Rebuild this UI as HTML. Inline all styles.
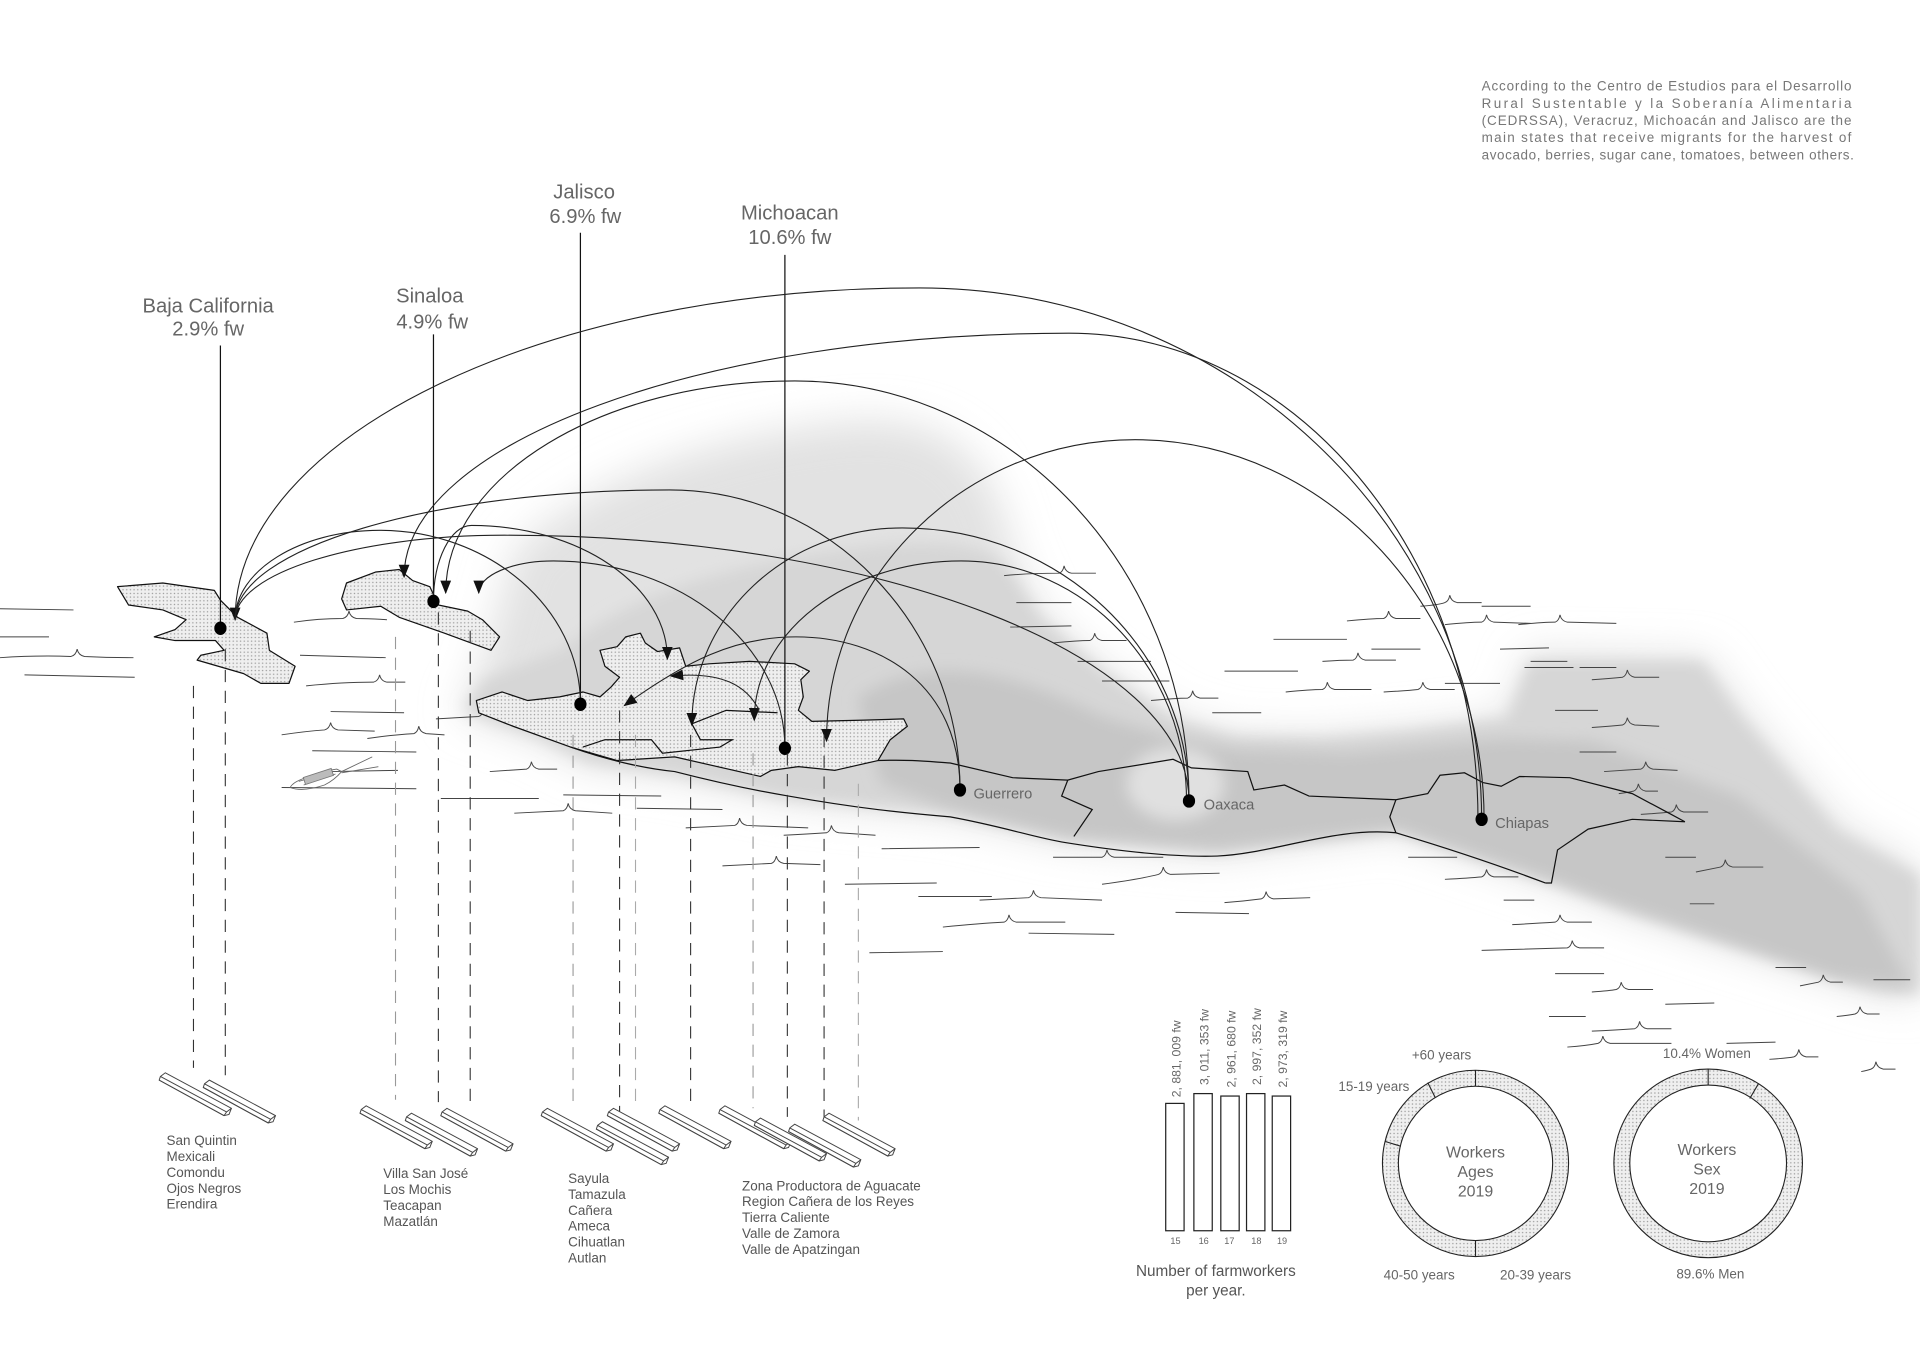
<!DOCTYPE html>
<html><head><meta charset="utf-8">
<style>
html,body{margin:0;padding:0;background:#fff;}
svg{display:block;}
text{font-family:"Liberation Sans",sans-serif;}
</style></head>
<body>
<svg width="1920" height="1357" viewBox="0 0 1568 1108" xmlns="http://www.w3.org/2000/svg">
<defs>
<filter id="b1" x="-20%" y="-20%" width="140%" height="140%"><feGaussianBlur stdDeviation="16"/></filter>
<filter id="b2" x="-20%" y="-20%" width="140%" height="140%"><feGaussianBlur stdDeviation="6"/></filter>
<pattern id="dots" width="3" height="3" patternUnits="userSpaceOnUse">
<rect width="3" height="3" fill="#efefef"/><circle cx="1.5" cy="1.5" r="0.6" fill="#9a9a9a"/>
</pattern>
<marker id="ar" viewBox="0 0 10 10" refX="9" refY="5" markerWidth="11" markerHeight="11" markerUnits="userSpaceOnUse" orient="auto">
<path d="M0,1 L10,5 L0,9 Z" fill="#111"/>
</marker>
<g id="s" fill="#fff" stroke="#444" stroke-width="0.8"><path d="M0,0 L4,-3 L58,26 L56,31 L52,32 L-1,3 Z"/><path d="M-1,3 L52,32 M0,0 L54,29 L58,26 M54,29 L52,32" fill="none"/></g>
</defs>

<!-- land base -->
<path filter="url(#b1)" fill="#e2e2e2" d="M420,450 C470,400 560,360 680,345 C760,335 810,360 827,449 L850,500 900,545 960,585 1010,600 1080,601 1150,595 1231,585 1247,533 1393,536 1424,580 1505,675 1568,710 L1568,816 1535,813 1333,748 1262,721 1140,680 994,699 870,688 776,667 644,655 551,635 480,626 438,604 373,582 387,560 400,520 Z"/>
<path filter="url(#b2)" fill="#d6d6d6" d="M460,530 C520,480 620,455 720,445 C790,440 815,450 827,470 L850,505 900,548 960,588 1010,602 1080,603 1150,597 1231,587 1249,540 1390,540 1420,583 1500,678 1568,715 L1568,812 1535,810 1333,745 1262,718 1140,678 994,696 870,685 776,664 644,652 551,632 480,622 440,602 378,580 395,555 Z"/>
<path filter="url(#b2)" fill="#c6c6c6" d="M700,570 C760,530 830,550 900,585 L960,603 1010,612 1100,615 1231,603 1300,605 1420,650 1520,730 1560,805 1500,798 1333,742 1262,716 1140,676 994,692 870,682 776,660 720,640 Z"/>
<ellipse cx="960" cy="640" rx="40" ry="30" fill="#e0e0e0" filter="url(#b2)"/>

<!-- waves -->
<g fill="none" stroke="#444" stroke-width="0.8">
<path d="M0,497 l60,1 M0,520 l40,0 M0,537 q30,-2 58,-1 q4,-1 5,-6 q1,5 6,6 q20,1 40,1 M20,551 l90,2 M240,508 q20,-3 40,-3 q4,-1 5,-6 q1,5 6,6 q10,0 25,1 M245,535 l70,2 M250,560 q30,-3 55,-3 q4,-1 5,-6 q1,5 6,6 l15,0 M270,581 l60,1 M230,600 q20,-3 35,-4 q4,-1 5,-6 q1,5 6,6 l30,1 M255,613 l85,1 M270,630 l55,-1 M230,643 l110,1 M300,603 q20,-3 38,-4 q3,-1 4,-6 q1,5 6,6 l15,1 M356,587 q15,-1 35,-2 q3,-1 4,-6 q1,5 6,6 l20,0 M400,630 q15,-1 30,-2 q3,-1 4,-6 q1,5 6,6 l15,0 M360,652 l80,0 M420,664 q20,-1 40,-2 q3,-1 4,-6 q1,5 6,6 l30,2 M460,649 l80,1 M560,676 q20,-1 40,-2 q3,-1 4,-6 q1,5 6,6 l50,2 M520,660 l70,1 M640,682 q20,-1 35,-2 q3,-1 4,-6 q1,5 6,6 l30,2 M590,707 q20,-1 40,-2 q3,-1 4,-6 q1,5 6,6 l30,1 M720,693 l80,-1 M690,722 l75,-1 M800,735 q20,-1 40,-2 q3,-1 4,-6 q1,5 6,6 l50,2 M860,700 q20,0 40,0 q3,-1 4,-6 q1,5 6,6 l40,0 M900,722 q30,-4 46,-8 q3,-1 4,-6 q1,5 6,6 l40,-1 M1000,737 q15,-1 30,-3 q3,-1 4,-6 q1,5 6,6 l30,-1 M770,757 q30,-3 50,-4 q3,-1 4,-6 q1,5 6,6 l40,0 M710,778 l60,-1 M750,732 l60,0 M840,762 l70,1 M960,745 l60,1"/>
<path d="M820,470 q20,-2 45,-2 q3,-1 4,-6 q1,5 6,6 l20,0 M830,492 l45,0 M825,512 l50,-1 M860,525 q20,-2 30,-2 q3,-1 4,-6 q1,5 6,6 l20,0 M880,540 l60,0 M900,556 l55,0 M940,572 q20,-2 30,-2 q3,-1 4,-6 q1,5 6,6 l15,0 M990,582 l40,0 M1000,548 l60,0 M1050,565 q20,-2 30,-2 q3,-1 4,-6 q1,5 6,6 l30,0 M1080,540 q15,-1 25,-1 q3,-1 4,-6 q1,5 6,6 l25,0 M1120,530 l40,0 M1040,522 l60,0 M1100,507 q20,-2 30,-2 q3,-1 4,-6 q1,5 6,6 l20,0 M1160,495 q15,-1 20,-3 q3,-1 4,-6 q1,5 6,6 l20,0 M1180,510 q20,-2 30,-2 q3,-1 4,-6 q1,5 6,6 l30,1 M1130,565 q20,-1 28,-2 q3,-1 4,-6 q1,5 6,6 l20,0 M1180,558 l45,0 M1225,530 l40,-1 M1210,495 l40,0 M1240,510 q20,-2 30,-2 q3,-1 4,-6 q1,5 6,6 l40,1 M1245,545 l40,0 M1290,545 l30,0"/>
<path d="M1250,540 l30,0 M1300,555 q15,-1 25,-2 q3,-1 4,-6 q1,5 6,6 l20,0 M1270,580 l35,0 M1300,594 q15,-1 25,-2 q3,-1 4,-6 q1,5 6,6 l20,1 M1290,614 l30,0 M1310,630 q15,-1 30,-2 q3,-1 4,-6 q1,5 6,6 l20,1 M1322,648 q8,-1 12,-2 q3,-1 4,-6 q1,5 6,6 l10,0 M1340,665 q15,-1 25,-2 q3,-1 4,-6 q1,5 6,6 l20,0 M1360,700 l25,0 M1385,712 q10,-2 20,-4 q3,-1 4,-6 q1,5 6,6 l25,0 M1380,738 l20,0 M1450,790 l25,0 M1470,805 q10,-2 15,-3 q3,-1 4,-6 q1,5 6,6 l10,0 M1500,830 q10,-1 15,-2 q3,-1 4,-6 q1,5 6,6 l10,0 M1530,800 l30,0"/>
<path d="M1150,700 l40,0 M1180,718 q20,-1 30,-2 q3,-1 4,-6 q1,5 6,6 l20,0 M1228,735 l25,0 M1235,755 q20,-1 35,-2 q3,-1 4,-6 q1,5 6,6 l20,0 M1210,776 l70,-2 q3,-1 4,-6 q1,5 6,6 l20,0 M1270,795 l40,0 M1300,810 q15,-1 20,-2 q3,-1 4,-6 q1,5 6,6 l20,0 M1265,830 l30,0 M1300,842 q20,-1 35,-2 q3,-1 4,-6 q1,5 6,6 l20,0 M1360,820 l40,-1 M1280,855 q15,-1 25,-3 q3,-1 4,-6 q1,5 6,6 l50,0 M1410,852 l40,-1 M1445,865 q15,-1 20,-2 q3,-1 4,-6 q1,5 6,6 l10,0 M1520,875 q5,-1 8,-2 q3,-1 4,-6 q1,5 6,6 l10,0"/>
</g>

<!-- boat -->
<g fill="none" stroke="#666" stroke-width="0.7">
<path d="M237,643 q10,4 28,-2 q8,-4 14,-11 l-4,-2 q-15,2 -28,8 q-8,3 -10,7 z"/>
<path d="M244,638 l28,-8 M248,641 l26,-9 M279,630 l25,-12 M279,631 l30,-5"/>
<rect x="248" y="631" width="24" height="6" fill="#bbb" stroke="#777" transform="rotate(-18 260 634)"/>
</g>

<!-- regions -->
<g stroke="#111" stroke-width="1" fill="url(#dots)" stroke-linejoin="round">
<path d="M96,479 L133,476 175,482 180,490 194,504 218,517 220,531 241,544 236,558 213,558 199,550 161,539 164,535 183,531 176,523 143,523 126,520 143,514 152,506 133,498 105,494 Z"/>
<path d="M283,476 L307,467 326,465 337,474 351,479 358,494 382,499 394,506 408,520 401,531 363,517 326,504 311,495 283,498 279,489 Z"/>
<path d="M389,572 L410,565 431,572 457,569 476,565 490,569 499,561 506,553 494,544 490,531 504,528 511,520 523,517 527,525 537,532 555,529 560,544 579,542 612,540 649,542 661,548 654,555 656,569 652,580 663,589 706,588 738,587 741,593 727,604 717,621 682,629 652,626 630,629 621,634 551,618 504,621 466,610 419,593 391,582 Z"/>
</g>
<g fill="none" stroke="#111" stroke-width="1">
<path d="M565,591 L593,580 635,582 M565,591 L572,604 598,604 588,610 541,615 532,604 494,604 476,610"/>
<path d="M466,610 C500,622 530,628 551,630 C590,640 620,646 644,650 C700,660 740,664 776,667 C820,675 845,684 870,688 C920,696 960,700 994,699 C1040,697 1090,675 1140,680 C1180,692 1220,705 1262,721"/>
<path d="M717,621 C745,620 760,622 776,623 L827,635 872,637 897,630 958,620 973,627 1019,630 1024,645 1049,641 1069,650 1140,653 1166,648 1176,633 1196,631 1211,639 1226,642 1241,634 1282,635 1333,648 1363,664 1376,671 1333,669 1297,677 1272,694 1267,721 1262,721"/>
<path d="M872,637 L867,650 892,661 877,683 M1140,653 L1135,667 1140,680"/>
</g>

<!-- vertical leader lines -->
<g stroke="#111" stroke-width="1">
<line x1="180" y1="282" x2="180" y2="513"/>
<line x1="354" y1="273" x2="354" y2="491"/>
<line x1="474" y1="190" x2="474" y2="575"/>
<line x1="641" y1="208" x2="641" y2="611"/>
</g>

<!-- arcs -->
<g fill="none" stroke="#222" stroke-width="0.9">
<path marker-end="url(#ar)" d="M1210,669 C1210,430 1003,235 751,235 C444,235 192,357 192,506"/>
<path marker-end="url(#ar)" d="M1207,669 C1207,451 1057,272 873,272 C574,272 330,362 330,471"/>
<path marker-end="url(#ar)" d="M971,654 C971,465 826,311 649,311 C492,311 364,389 364,484"/>
<path marker-end="url(#ar)" d="M1212,669 C1212,498 1084,359 927,359 C788,359 675,470 675,605"/>
<path d="M784,645 C784,510 677,400 547,400 C352,400 192,448 192,506"/>
<path d="M474,575 C474,497 400,433 310,433 C245,433 192,466 192,506"/>
<path marker-end="url(#ar)" d="M354,491 C354,457 368,429 385,429 C473,429 545,478 545,538"/>
<path d="M971,654 C971,535 719,437 412,437 C291,437 192,468 192,506"/>
<path marker-end="url(#ar)" d="M641,611 C641,527 556,458 452,458 C418,458 391,470 391,484"/>
<path marker-end="url(#ar)" d="M971,654 C971,531 866,431 737,431 C642,431 565,503 565,592"/>
<path marker-end="url(#ar)" d="M969,654 C969,546 886,458 785,458 C692,458 616,516 616,588"/>
<path marker-end="url(#ar)" d="M784,645 C784,560 720,520 650,520 C600,520 560,540 510,576"/>
<path marker-end="url(#ar)" d="M620,580 C610,560 590,548 548,552"/>
</g>

<!-- dots -->
<g fill="#000">
<ellipse cx="180" cy="513" rx="5" ry="5.5"/>
<ellipse cx="354" cy="491" rx="5" ry="5.5"/>
<ellipse cx="474" cy="575" rx="5" ry="5.5"/>
<ellipse cx="641" cy="611" rx="5" ry="5.5"/>
<ellipse cx="784" cy="645" rx="5" ry="5.5"/>
<ellipse cx="971" cy="654" rx="5" ry="5.5"/>
<ellipse cx="1210" cy="669" rx="5" ry="5.5"/>
</g>
<g fill="#666" font-size="12">
<text x="795" y="652">Guerrero</text>
<text x="983" y="661">Oaxaca</text>
<text x="1221" y="676">Chiapas</text>
</g>

<!-- titles -->
<g fill="#666" font-size="16.5" text-anchor="middle">
<text x="170" y="255">Baja California</text><text x="170" y="274">2.9% fw</text>
<text x="351" y="247">Sinaloa</text><text x="353" y="268">4.9% fw</text>
<text x="477" y="162">Jalisco</text><text x="478" y="182">6.9% fw</text>
<text x="645" y="179">Michoacan</text><text x="645" y="199">10.6% fw</text>
</g>

<!-- top-right paragraph -->
<g fill="#777" font-size="11">
<text x="1210" y="74" textLength="302" lengthAdjust="spacing">According  to the Centro de Estudios para el Desarrollo</text>
<text x="1210" y="88" textLength="302" lengthAdjust="spacing">Rural   Sustentable   y   la   Soberanía   Alimentaria</text>
<text x="1210" y="102" textLength="302" lengthAdjust="spacing">(CEDRSSA), Veracruz, Michoacán and Jalisco are the</text>
<text x="1210" y="116" textLength="302" lengthAdjust="spacing">main states that receive migrants for the harvest of</text>
<text x="1210" y="130" textLength="304" lengthAdjust="spacing">avocado, berries, sugar cane, tomatoes, between others.</text>
</g>

<!-- dashed lines -->
<g stroke="#333" stroke-width="0.9" stroke-dasharray="10,7">
<line x1="158" y1="560" x2="158" y2="872"/>
<line x1="184" y1="530" x2="184" y2="878"/>
<line x1="323" y1="520" x2="323" y2="898" stroke="#999"/>
<line x1="358" y1="500" x2="358" y2="900"/>
<line x1="384" y1="515" x2="384" y2="906"/>
<line x1="468" y1="600" x2="468" y2="900" stroke="#999"/>
<line x1="506" y1="580" x2="506" y2="908"/>
<line x1="519" y1="600" x2="519" y2="900" stroke="#aaa"/>
<line x1="564" y1="600" x2="564" y2="902"/>
<line x1="615" y1="615" x2="615" y2="905" stroke="#999"/>
<line x1="643" y1="615" x2="643" y2="912"/>
<line x1="673" y1="600" x2="673" y2="912"/>
<line x1="701" y1="640" x2="701" y2="915" stroke="#aaa"/>
</g>

<!-- slats -->
<use href="#s" x="131" y="879"/><use href="#s" x="167" y="885"/>
<use href="#s" x="295" y="906"/><use href="#s" x="332" y="912"/><use href="#s" x="361" y="908"/>
<use href="#s" x="443" y="908"/><use href="#s" x="497" y="908"/><use href="#s" x="488" y="919"/><use href="#s" x="539" y="906"/>
<use href="#s" x="588" y="906"/><use href="#s" x="617" y="916"/><use href="#s" x="645" y="921"/><use href="#s" x="673" y="912"/>

<!-- bottom lists -->
<g fill="#555" font-size="11">
<text x="136" y="935">San Quintin</text><text x="136" y="948">Mexicali</text><text x="136" y="961">Comondu</text><text x="136" y="974">Ojos Negros</text><text x="136" y="987">Erendira</text>
<text x="313" y="962">Villa San José</text><text x="313" y="975">Los Mochis</text><text x="313" y="988">Teacapan</text><text x="313" y="1001">Mazatlán</text>
<text x="464" y="966">Sayula</text><text x="464" y="979">Tamazula</text><text x="464" y="992">Cañera</text><text x="464" y="1005">Ameca</text><text x="464" y="1018">Cihuatlan</text><text x="464" y="1031">Autlan</text>
<text x="606" y="972">Zona Productora de Aguacate</text><text x="606" y="985">Region Cañera de los Reyes</text><text x="606" y="998">Tierra Caliente</text><text x="606" y="1011">Valle de Zamora</text><text x="606" y="1024">Valle de Apatzingan</text>
</g>

<!-- bar chart -->
<g fill="#fff" stroke="#222" stroke-width="1">
<rect x="952" y="901" width="15" height="104"/>
<rect x="975" y="893" width="15" height="112"/>
<rect x="997" y="895" width="15" height="110"/>
<rect x="1018" y="893" width="15" height="112"/>
<rect x="1039" y="895" width="15" height="110"/>
</g>
<g fill="#666" font-size="10">
<text transform="translate(964,896) rotate(-90)">2, 881,  009 fw</text>
<text transform="translate(987,886) rotate(-90)">3, 011, 353 fw</text>
<text transform="translate(1009,888) rotate(-90)">2, 961, 680 fw</text>
<text transform="translate(1030,886) rotate(-90)">2, 997, 352 fw</text>
<text transform="translate(1051,888) rotate(-90)">2, 973, 319 fw</text>
</g>
<g fill="#666" font-size="7.5" text-anchor="middle">
<text x="960" y="1016">15</text><text x="983" y="1016">16</text><text x="1004" y="1016">17</text><text x="1026" y="1016">18</text><text x="1047" y="1016">19</text>
</g>
<g fill="#555" font-size="12.5" text-anchor="middle">
<text x="993" y="1042">Number of farmworkers</text><text x="993" y="1058">per year.</text>
</g>

<!-- rings -->
<g fill="url(#dots)" stroke="#222" stroke-width="0.9" fill-rule="evenodd">
<path d="M1129,950 a76,76 0 1,0 152,0 a76,76 0 1,0 -152,0 Z M1142,950 a63,63 0 1,0 126,0 a63,63 0 1,0 -126,0 Z"/>
<path d="M1318,950 a77,77 0 1,0 154,0 a77,77 0 1,0 -154,0 Z M1331,950 a64,64 0 1,0 128,0 a64,64 0 1,0 -128,0 Z"/>
</g>
<g stroke="#222" stroke-width="0.9">
<line x1="1205" y1="874" x2="1205" y2="887"/>
<line x1="1205" y1="1013" x2="1205" y2="1026"/>
<line x1="1166" y1="884" x2="1172" y2="896"/>
<line x1="1131" y1="932" x2="1144" y2="936"/>
<line x1="1395" y1="873" x2="1395" y2="886"/>
<line x1="1436" y1="885" x2="1429" y2="897"/>
</g>
<g fill="#666" font-size="11">
<text x="1153" y="865">+60  years</text>
<text x="1093" y="891">15-19 years</text>
<text x="1130" y="1045">40-50 years</text>
<text x="1225" y="1045">20-39 years</text>
<text x="1358" y="864">10.4% Women</text>
<text x="1369" y="1044">89.6% Men</text>
</g>
<g fill="#666" font-size="13" text-anchor="middle">
<text x="1205" y="945">Workers</text><text x="1205" y="961">Ages</text><text x="1205" y="977">2019</text>
<text x="1394" y="943">Workers</text><text x="1394" y="959">Sex</text><text x="1394" y="975">2019</text>
</g>
</svg>
</body></html>
